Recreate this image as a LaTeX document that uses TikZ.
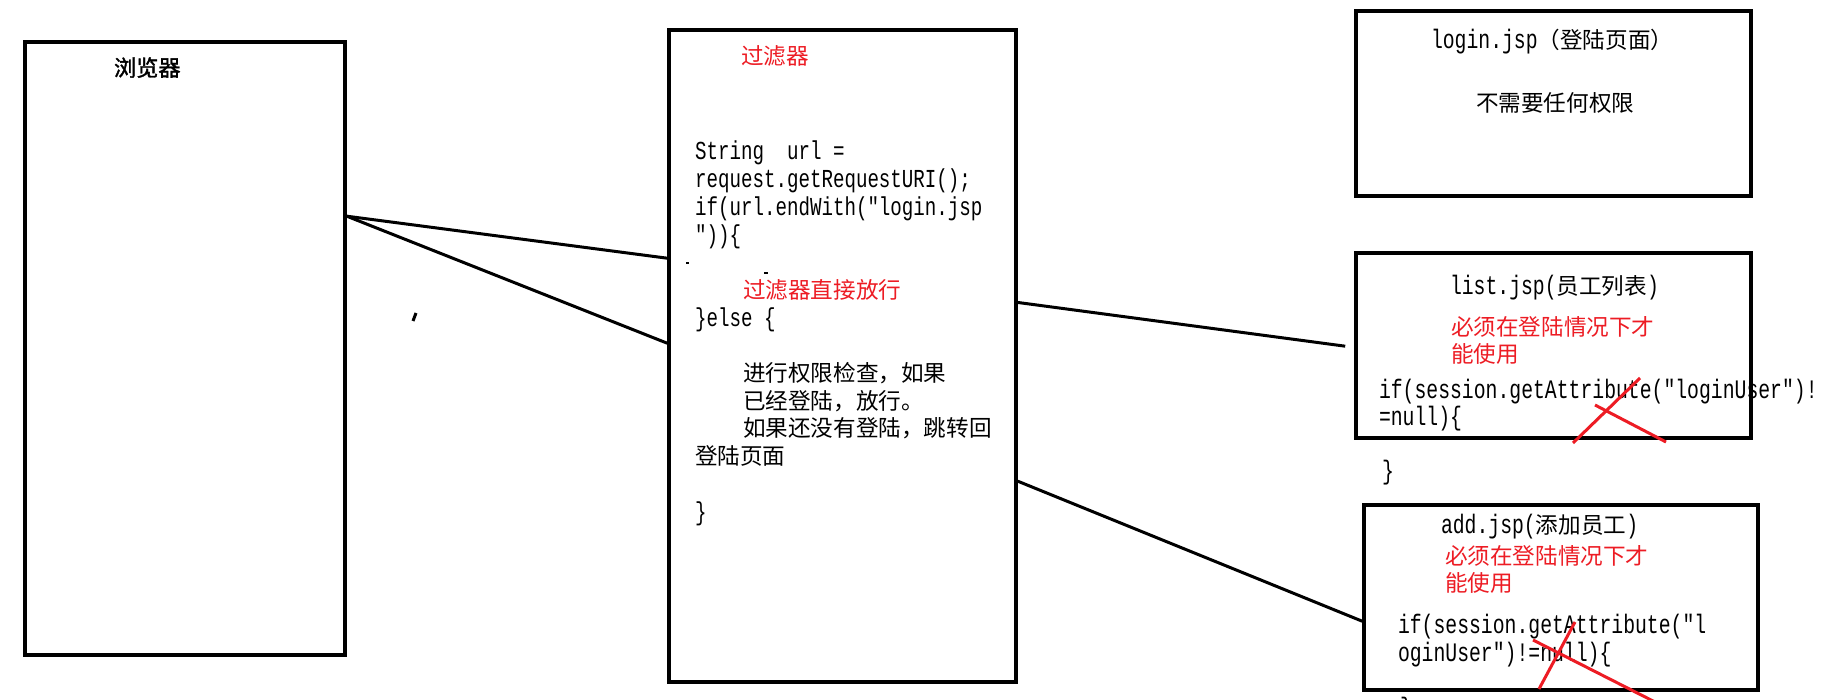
\documentclass[tikz,border=0pt]{standalone}
\usepackage{fontspec}
\newfontfamily\cjkfont{Noto Sans CJK SC}
\newfontfamily\cjkbold[FakeBold=1.5]{Noto Sans CJK SC}
\newfontfamily\monofont[FakeStretch=0.74]{Liberation Mono}
\definecolor{paintred}{RGB}{237,28,36}
\newcommand\CJ{\cjkfont\fontsize{11.3pt}{14pt}\selectfont}
\newcommand\CB{\cjkbold\fontsize{11.1pt}{14pt}\selectfont}
\newcommand\MF{\monofont\fontsize{12.95pt}{14pt}\selectfont}
\newcommand\MR{\monofont\fontsize{13.35pt}{14pt}\selectfont}
\begin{document}
\begin{tikzpicture}[x=0.5pt,y=-0.5pt,
  box/.style={draw=black,line width=1.8pt,rectangle,inner sep=0pt},
  link/.style={draw=black,line width=1.5pt},
  cross/.style={draw=paintred,line width=1.5pt},
  txt/.style={anchor=base west,inner sep=0pt,outer sep=0pt},
  redtxt/.style={txt,text=paintred}]
\fill[white] (0,0) rectangle (1828,700);
\useasboundingbox (0,0) rectangle (1828,700);

% boxes
\node[box,minimum width=160pt,minimum height=306.5pt] (browser) at (185,348.5) {};
\node[box,minimum width=173.5pt,minimum height=326pt] (filter) at (842.5,356) {};
\node[box,minimum width=197.5pt,minimum height=92.5pt] (login) at (1553.5,103.5) {};
\node[box,minimum width=197.5pt,minimum height=92.5pt] (list) at (1553.5,345.5) {};
\node[box,minimum width=197pt,minimum height=92.5pt] (add) at (1561,597.5) {};

% connectors
\draw[link] ([yshift=-88pt]browser.north east) -- ([yshift=-115pt]filter.north west);
\draw[link] ([yshift=-88pt]browser.north east) -- ([yshift=-157.5pt]filter.north west);
\draw[link] ([xshift=-1pt,yshift=-137pt]filter.north east) -- ([xshift=-4.5pt,yshift=-47.5pt]list.north west);
\draw[link] ([yshift=-226.5pt]filter.north east) -- ([yshift=-59pt]add.north west);

% browser
\node[txt] (tbrowser) at (114,76) {\CB 浏览器};

% filter
\node[redtxt] (tfilter) at (741,65) {\CJ 过滤器};
\node[txt] (f0) at (695,160) {\MF String\ \ url =};
\node[txt] (f1) at (695,187.7) {\MF request.getRequestURI();};
\node[txt] (f2) at (695,215.4) {\MF if(url.endWith("login.jsp};
\node[txt] (f3) at (695,243.1) {\MF "))\{};
\node[redtxt] (f5) at (743,298.5) {\CJ 过滤器直接放行};
\node[txt] (f6) at (695,326.2) {\MF \}else \{};
\node[txt] (f8) at (743,381.6) {\CJ 进行权限检查，如果};
\node[txt] (f9) at (743,409.3) {\CJ 已经登陆，放行。};
\node[txt] (f10) at (743,437) {\CJ 如果还没有登陆，跳转回};
\node[txt] (f11) at (695,464.7) {\CJ 登陆页面};
\node[txt] (f13) at (695,520.1) {\MF \}};

% login
\node[txt] (l0) at (1431,49) {\MR login.jsp\CJ （登陆页面）};
\node[txt] (l1) at (1476,112) {\CJ 不需要任何权限};

% list
\node[txt] (s0) at (1450,295) {\MR list.jsp(\CJ 员工列表\MR )};
\node[redtxt] (s1) at (1451,336) {\CJ 必须在登陆情况下才};
\node[redtxt] (s2) at (1451,363) {\CJ 能使用};
\node[txt] (s3) at (1379,399) {\MR if(session.getAttribute("loginUser")!};
\node[txt] (s4) at (1379,426) {\MR =null)\{};
\node[txt] (s5) at (1382,480) {\MR \}};

% add
\node[txt] (a0) at (1441,533) {\MR add.jsp(\CJ 添加员工\MR )};
\node[redtxt] (a1) at (1445,565) {\CJ 必须在登陆情况下才};
\node[redtxt] (a2) at (1445,591) {\CJ 能使用};
\node[txt] (a3) at (1398,633) {\MR if(session.getAttribute("l};
\node[txt] (a4) at (1398,661) {\MR oginUser")!=null)\{};
\node[txt] (a5) at (1400,716) {\MR \}};

% red crosses
\draw[cross] (1573,443) -- (1640,378);
\draw[cross] (1595,405) -- (1666,442);
\draw[cross] (1539,689) -- (1575,622);
\draw[cross] (1533,640) -- (1655,702);

% stray marks
\draw[line width=1.5pt] (416,313) -- (413,321);
\draw[line width=0.6pt] (686,263) -- (689,263);
\draw[line width=0.6pt] (764,273) -- (768,273);
\end{tikzpicture}
\end{document}
